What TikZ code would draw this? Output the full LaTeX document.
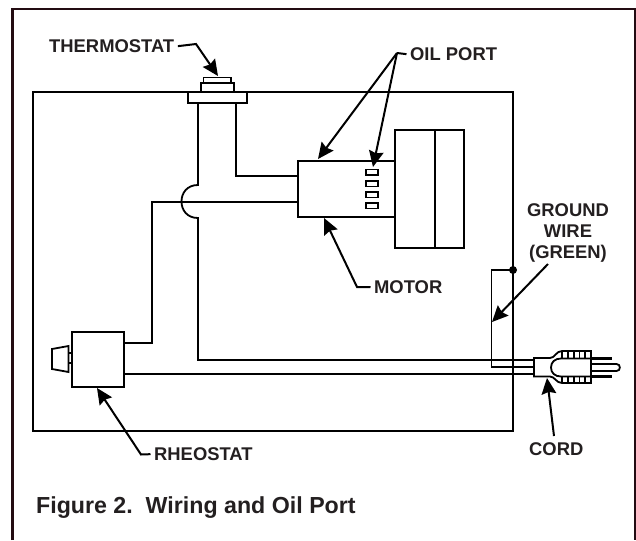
\documentclass[tikz,border=0pt]{standalone}
\usepackage{fontspec}
\setmainfont{Liberation Sans}
\usetikzlibrary{arrows.meta}
\definecolor{framecol}{RGB}{35,12,18}
\definecolor{inkcol}{RGB}{35,31,32}
\tikzset{every picture/.style={line width=1.35pt}}
\tikzset{
  partbox/.style={draw,rectangle,inner sep=0pt,outer sep=0pt},
  lbl/.style={anchor=base west,inner sep=0.75pt,outer sep=2pt,text=inkcol,font=\bfseries\fontsize{13.8}{16.1}\selectfont},
  callout/.style={line width=1.5pt,-{Stealth[length=12pt,width=11pt,inset=1.5pt]}},
  prong/.style={line width=1.8pt}
}

\begin{document}
\begin{tikzpicture}[x=0.75pt,y=0.75pt,yscale=-1,xscale=1]
\useasboundingbox (0,0) rectangle (636,540);

%Outer frame, open at the bottom
\draw [color=framecol,line width=1.9pt] (12.5,540) -- (12.5,9) -- (635,9) -- (635,540);
%Panel
\draw (33,92) rectangle (513,431);

%Thermostat
\node (flange) [partbox,minimum width=44.25pt,minimum height=8.25pt] at (217.5,97.5) {};
\draw (201,92) -- (201,83) -- (234,83) -- (234,92);
\draw (203.5,83) -- (203.5,77.5) -- (231,77.5) -- (231,83);

%Motor and fan
\node (motor) [partbox,minimum width=73pt,minimum height=42pt] at (346.5,189) {};
\node (fanleft) [partbox,minimum width=30pt,minimum height=88.5pt] at (415,189) {};
\node (fanright) [partbox,minimum width=22pt,minimum height=88.5pt] at (449.67,189) {};

%Oil ports
\draw (366,169.5) rectangle (378,175);
\draw (366,181) rectangle (378,186.5);
\draw (366,192) rectangle (378,197.5);
\draw (366,203) rectangle (378,208.5);

%Rheostat
\node (rheostat) [partbox,minimum width=39pt,minimum height=41.5pt] at (98,359.5) {};
\draw (68.5,346) -- (52,349) -- (52,369) -- (68.5,372) -- cycle;
\draw (68.5,353) rectangle (72,363);

%Wires
\draw (236,103) -- (236,176) -- (motor.west |- 236,176);
\draw (198,103) -- (198,185) .. controls (187,185) and (181.5,193) .. (181.5,201.5) .. controls (181.5,210) and (187,218) .. (198,218) -- (198,360) -- (534,360);
\draw (motor.west |- 236,202) -- (152,202) -- (152,343) -- (rheostat.east |- 152,343);
\draw (rheostat.east |- 152,374) -- (534,374);

%Ground wire
\coordinate (grounddot) at (513,270);
\draw (grounddot) -- (491.5,270) -- (491.5,367) -- (534,367);
\fill (grounddot) circle (4);

%Plug
\draw (534,376.5) -- (534,358) -- (550,358) .. controls (555,358) and (556,351) .. (562,351) -- (591,351) -- (591,383) -- (562,383) .. controls (556,383) and (555,376.5) .. (550,376.5) -- cycle;
\draw (591,358.5) -- (561,358.5) .. controls (555,358.5) and (551,362) .. (551,367.5) .. controls (551,373) and (555,376.5) .. (561,376.5) -- (591,376.5);
\draw (562,351) -- (562,358.5);
\draw (568,351) -- (568,358.5);
\draw (574,351) -- (574,358.5);
\draw (579.5,351) -- (579.5,358.5);
\draw (585,351) -- (585,358.5);
\draw (562,376.5) -- (562,383);
\draw (568,376.5) -- (568,383);
\draw (574,376.5) -- (574,383);
\draw (579.5,376.5) -- (579.5,383);
\draw (585,376.5) -- (585,383);
\draw [prong] (591,358.5) -- (612,358.5);
\draw [prong] (591,376.5) -- (612,376.5);
\draw (591,364) -- (616.5,364) .. controls (621,364) and (621,371) .. (616.5,371) -- (591,371);

% Text Node
\draw (45.5,52.5) node (thermostatlbl) [lbl] {THERMOSTAT};
% Text Node
\draw (406.5,60.5) node (oillbl) [lbl] {OIL PORT};
% Text Node
\draw (370.5,293.5) node (motorlbl) [lbl] {MOTOR};
% Text Node
\draw (150.5,460.5) node (rheostatlbl) [lbl] {RHEOSTAT};
% Text Node
\draw (525.5,455.5) node (cordlbl) [lbl] {CORD};
% Text Node
\draw (568,233) node (groundlbl) [lbl,anchor=center,align=center] {GROUND\\WIRE\\(GREEN)};
% Text Node
\draw (32.5,513) node (captionlbl) [lbl,font=\bfseries\fontsize{17.4}{20}\selectfont] {Figure 2.\ \ Wiring and Oil Port};

%Callouts
\coordinate (thermostatbend) at (196,44);
\coordinate (thermostattip) at (218,76);
\coordinate (oiljoin) at (397,53);
\coordinate (oiltipa) at (318,159);
\coordinate (oiltipb) at (373,167);
\coordinate (motorbend) at (357,287);
\coordinate (motortip) at (324,218);
\coordinate (rheostatbend) at (141,454.5);
\coordinate (rheostattip) at (97,388);
\coordinate (groundstart) at (548,264);
\coordinate (groundtip) at (492,322);
\coordinate (cordstart) at (554,436);
\coordinate (cordtip) at (547,378);
\draw [callout] (thermostatlbl.east) -- (thermostatbend) -- (thermostattip);
\draw [line width=1.5pt] (oillbl.west) -- (oiljoin);
\draw [callout] (oiljoin) -- (oiltipa);
\draw [callout] (oiljoin) -- (oiltipb);
\draw [callout] (motorlbl.west) -- (motorbend) -- (motortip);
\draw [callout] (rheostatlbl.west) -- (rheostatbend) -- (rheostattip);
\draw [callout] (groundstart) -- (groundtip);
\draw [callout] (cordstart) -- (cordtip);
\end{tikzpicture}
\end{document}
